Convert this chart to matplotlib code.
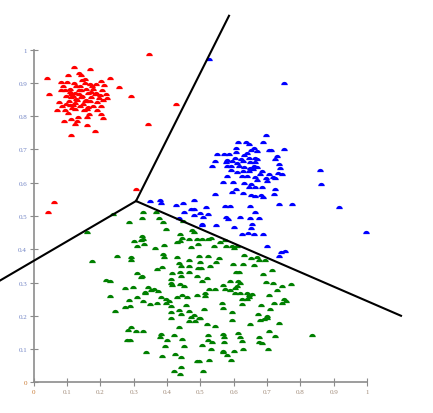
import numpy as np
import matplotlib
matplotlib.use("Agg")
import matplotlib.pyplot as plt
from matplotlib.path import Path

# cluster points (x, y)
red_pts = [
    (0.345, 0.986), (0.121, 0.948), (0.170, 0.942), (0.137, 0.930), (0.142, 0.925),
    (0.104, 0.923), (0.039, 0.915), (0.228, 0.915), (0.083, 0.903), (0.101, 0.903),
    (0.144, 0.908), (0.203, 0.905), (0.122, 0.900), (0.153, 0.900), (0.168, 0.896),
    (0.188, 0.898), (0.210, 0.893), (0.089, 0.890), (0.126, 0.890), (0.176, 0.890),
    (0.257, 0.887), (0.083, 0.878), (0.110, 0.883), (0.141, 0.880), (0.158, 0.881),
    (0.204, 0.880), (0.047, 0.868), (0.108, 0.873), (0.123, 0.871), (0.135, 0.868),
    (0.163, 0.870), (0.188, 0.871), (0.218, 0.868), (0.292, 0.860), (0.098, 0.860),
    (0.113, 0.858), (0.143, 0.858), (0.173, 0.858), (0.198, 0.863), (0.220, 0.855),
    (0.075, 0.843), (0.105, 0.846), (0.131, 0.848), (0.153, 0.845), (0.191, 0.843),
    (0.209, 0.848), (0.428, 0.838), (0.086, 0.830), (0.117, 0.833), (0.138, 0.830),
    (0.163, 0.828), (0.178, 0.830), (0.203, 0.830), (0.070, 0.820), (0.093, 0.818),
    (0.123, 0.822), (0.161, 0.821), (0.191, 0.820), (0.103, 0.811), (0.165, 0.808),
    (0.203, 0.806), (0.209, 0.796), (0.111, 0.792), (0.133, 0.798), (0.159, 0.798),
    (0.090, 0.786), (0.130, 0.786), (0.123, 0.776), (0.161, 0.774), (0.343, 0.778),
    (0.183, 0.755), (0.111, 0.744), (0.098, 0.838), (0.148, 0.838), (0.113, 0.868),
    (0.173, 0.873), (0.135, 0.878), (0.153, 0.913), (0.178, 0.883), (0.196, 0.856),
    (0.306, 0.581), (0.042, 0.511), (0.060, 0.542), (0.118, 0.862), (0.128, 0.852),
    (0.145, 0.862), (0.158, 0.850), (0.108, 0.835), (0.125, 0.840), (0.170, 0.845),
    (0.140, 0.890), (0.095, 0.880), (0.183, 0.868), (0.115, 0.825), (0.150, 0.818),
]

blue_pts = [
    (0.751, 0.901), (0.526, 0.971), (0.697, 0.743), (0.612, 0.722), (0.637, 0.723),
    (0.645, 0.717), (0.688, 0.722), (0.606, 0.704), (0.662, 0.704), (0.653, 0.699),
    (0.671, 0.696), (0.705, 0.697), (0.713, 0.699), (0.751, 0.702), (0.607, 0.692),
    (0.551, 0.685), (0.571, 0.685), (0.587, 0.685), (0.630, 0.682), (0.641, 0.689),
    (0.604, 0.674), (0.621, 0.671), (0.645, 0.674), (0.664, 0.674), (0.671, 0.671),
    (0.729, 0.680), (0.725, 0.670), (0.545, 0.666), (0.581, 0.668), (0.594, 0.666),
    (0.577, 0.662), (0.629, 0.666), (0.649, 0.662), (0.664, 0.662), (0.610, 0.658),
    (0.737, 0.657), (0.535, 0.649), (0.581, 0.650), (0.592, 0.650), (0.616, 0.649),
    (0.630, 0.646), (0.662, 0.650), (0.671, 0.648), (0.649, 0.643), (0.740, 0.643),
    (0.591, 0.639), (0.610, 0.631), (0.629, 0.634), (0.646, 0.634), (0.658, 0.641),
    (0.684, 0.634), (0.707, 0.627), (0.733, 0.628), (0.745, 0.627), (0.860, 0.638),
    (0.581, 0.621), (0.626, 0.621), (0.639, 0.620), (0.664, 0.617), (0.680, 0.627),
    (0.697, 0.613), (0.717, 0.617), (0.725, 0.614), (0.599, 0.602), (0.568, 0.602),
    (0.632, 0.598), (0.671, 0.608), (0.701, 0.605), (0.653, 0.597), (0.686, 0.588),
    (0.646, 0.587), (0.664, 0.587), (0.725, 0.582), (0.606, 0.580), (0.594, 0.573),
    (0.862, 0.595), (0.543, 0.566), (0.629, 0.569), (0.652, 0.562), (0.664, 0.560),
    (0.682, 0.562), (0.688, 0.558), (0.721, 0.565), (0.350, 0.546), (0.379, 0.549),
    (0.381, 0.538), (0.481, 0.549), (0.428, 0.534), (0.449, 0.538), (0.737, 0.535),
    (0.776, 0.536), (0.916, 0.526), (0.516, 0.528), (0.573, 0.531), (0.589, 0.529),
    (0.648, 0.529), (0.473, 0.520), (0.481, 0.521), (0.452, 0.513), (0.498, 0.508),
    (0.524, 0.506), (0.664, 0.511), (0.481, 0.503), (0.509, 0.496), (0.437, 0.494),
    (0.578, 0.498), (0.582, 0.491), (0.620, 0.498), (0.648, 0.493), (0.676, 0.494),
    (0.506, 0.476), (0.506, 0.472), (0.548, 0.472), (0.602, 0.467), (0.654, 0.476),
    (0.652, 0.464), (0.998, 0.451), (0.644, 0.449), (0.624, 0.445), (0.660, 0.445),
    (0.688, 0.445), (0.701, 0.409), (0.742, 0.391), (0.755, 0.396), (0.735, 0.379),
]

green_pts = [
    (0.238, 0.505), (0.160, 0.452), (0.329, 0.511), (0.367, 0.511), (0.324, 0.494),
    (0.376, 0.494), (0.287, 0.481), (0.388, 0.481), (0.448, 0.484), (0.396, 0.461),
    (0.476, 0.459), (0.481, 0.453), (0.438, 0.447), (0.324, 0.441), (0.444, 0.435),
    (0.300, 0.426), (0.321, 0.428), (0.327, 0.430), (0.431, 0.423), (0.438, 0.425),
    (0.467, 0.430), (0.490, 0.431), (0.332, 0.417), (0.310, 0.410), (0.392, 0.413),
    (0.365, 0.405), (0.472, 0.407), (0.493, 0.417), (0.250, 0.380), (0.293, 0.378),
    (0.293, 0.368), (0.388, 0.386), (0.391, 0.376), (0.431, 0.378), (0.467, 0.369),
    (0.496, 0.379), (0.175, 0.366), (0.436, 0.360), (0.441, 0.350), (0.467, 0.351),
    (0.493, 0.345), (0.384, 0.346), (0.369, 0.340), (0.466, 0.333), (0.438, 0.331),
    (0.415, 0.328), (0.441, 0.321), (0.489, 0.321), (0.310, 0.329), (0.326, 0.321),
    (0.323, 0.316), (0.411, 0.311), (0.217, 0.308), (0.228, 0.304), (0.411, 0.299),
    (0.440, 0.297), (0.414, 0.294), (0.451, 0.290), (0.275, 0.283), (0.298, 0.286),
    (0.342, 0.286), (0.360, 0.281), (0.351, 0.278), (0.373, 0.275), (0.335, 0.272),
    (0.333, 0.268), (0.228, 0.260), (0.310, 0.256), (0.383, 0.256), (0.396, 0.250),
    (0.431, 0.256), (0.444, 0.263), (0.461, 0.255), (0.489, 0.263), (0.286, 0.247),
    (0.329, 0.245), (0.369, 0.239), (0.406, 0.245), (0.397, 0.238), (0.350, 0.235),
    (0.290, 0.229), (0.275, 0.226), (0.411, 0.228), (0.457, 0.233), (0.245, 0.213),
    (0.436, 0.217), (0.443, 0.205), (0.466, 0.213), (0.472, 0.197), (0.482, 0.203),
    (0.413, 0.211), (0.413, 0.192), (0.467, 0.183), (0.485, 0.183), (0.496, 0.193),
    (0.291, 0.165), (0.284, 0.157), (0.308, 0.153), (0.327, 0.153), (0.436, 0.165),
    (0.382, 0.146), (0.378, 0.137), (0.422, 0.142), (0.281, 0.128), (0.289, 0.126),
    (0.400, 0.126), (0.444, 0.129), (0.395, 0.110), (0.451, 0.110), (0.337, 0.090),
    (0.425, 0.086), (0.384, 0.078), (0.442, 0.076), (0.491, 0.065), (0.442, 0.047),
    (0.421, 0.035), (0.440, 0.025),
    (0.504, 0.431), (0.522, 0.431), (0.532, 0.433), (0.540, 0.411), (0.558, 0.421),
    (0.573, 0.429), (0.578, 0.409), (0.596, 0.411), (0.602, 0.403), (0.609, 0.409),
    (0.524, 0.379), (0.500, 0.361), (0.546, 0.361), (0.557, 0.374), (0.632, 0.382),
    (0.651, 0.373), (0.669, 0.378), (0.677, 0.369), (0.694, 0.369), (0.529, 0.351),
    (0.599, 0.355), (0.629, 0.355), (0.662, 0.352), (0.502, 0.343), (0.606, 0.333),
    (0.617, 0.333), (0.689, 0.327), (0.716, 0.339), (0.519, 0.313), (0.506, 0.305),
    (0.588, 0.305), (0.614, 0.305), (0.620, 0.298), (0.697, 0.302), (0.717, 0.298),
    (0.567, 0.293), (0.609, 0.289), (0.745, 0.289), (0.773, 0.295), (0.526, 0.281),
    (0.543, 0.282), (0.573, 0.280), (0.588, 0.279), (0.605, 0.284), (0.731, 0.277),
    (0.514, 0.269), (0.605, 0.269), (0.618, 0.268), (0.641, 0.269), (0.646, 0.263),
    (0.654, 0.266), (0.514, 0.259), (0.707, 0.263), (0.624, 0.250), (0.639, 0.251),
    (0.645, 0.257), (0.752, 0.250), (0.758, 0.244), (0.744, 0.238), (0.566, 0.239),
    (0.625, 0.235), (0.720, 0.238), (0.683, 0.232), (0.510, 0.220), (0.569, 0.224),
    (0.710, 0.220), (0.594, 0.212), (0.673, 0.206), (0.499, 0.192), (0.680, 0.186),
    (0.699, 0.199), (0.701, 0.193), (0.690, 0.190), (0.594, 0.187), (0.519, 0.174),
    (0.543, 0.170), (0.650, 0.174), (0.735, 0.177), (0.612, 0.149), (0.706, 0.154),
    (0.568, 0.146), (0.725, 0.139), (0.836, 0.141), (0.524, 0.143), (0.522, 0.127),
    (0.536, 0.120), (0.571, 0.135), (0.571, 0.121), (0.618, 0.135), (0.624, 0.124),
    (0.676, 0.135), (0.676, 0.121), (0.684, 0.118), (0.504, 0.113), (0.532, 0.100),
    (0.568, 0.095), (0.568, 0.090), (0.602, 0.095), (0.627, 0.100), (0.703, 0.100),
    (0.581, 0.081), (0.591, 0.066), (0.495, 0.065), (0.526, 0.066), (0.509, 0.034),
]

# boundary segments: shared centre and the three far ends
centre = (0.307, 0.545)
line_ends = [(0.586, 1.102), (-0.101, 0.306), (1.102, 0.200)]

ticks = np.round(np.arange(0, 1.01, 0.1), 1)
tick_labels = ["0", "0.1", "0.2", "0.3", "0.4", "0.5", "0.6", "0.7", "0.8", "0.9", "1"]

# half-disc marker, flat side down
t = np.linspace(0, np.pi, 20)
verts = np.column_stack([np.cos(t), np.sin(t) - 0.5])
verts = np.vstack([verts, verts[:1]])
codes = [Path.MOVETO] + [Path.LINETO] * (len(verts) - 2) + [Path.CLOSEPOLY]
dome = Path(verts, codes)

fig = plt.figure(figsize=(4.33, 4.14), dpi=100)
ax = fig.add_axes([0, 0, 1, 1])

for pts, col in [(red_pts, "#ff0000"), (blue_pts, "#0000ff"), (green_pts, "#008000")]:
    p = np.array(pts)
    ax.scatter(p[:, 0], p[:, 1], marker=dome, s=22, color=col, linewidths=0, zorder=3)

for end in line_ends:
    ax.plot([centre[0], end[0]], [centre[1], end[1]], color="black", lw=1.5, zorder=4)

ax.set_xlim(-0.1011, 1.198)
ax.set_ylim(-0.0923, 1.1524)

for s in ["top", "right"]:
    ax.spines[s].set_visible(False)
for s in ["left", "bottom"]:
    ax.spines[s].set_position(("data", 0))
    ax.spines[s].set_bounds(0, 1)
    ax.spines[s].set_color("#8c8c8c")
    ax.spines[s].set_linewidth(1.2)

ax.set_xticks(ticks)
ax.set_yticks(ticks)
ax.set_xticklabels(tick_labels)
ax.set_yticklabels(tick_labels)
ax.tick_params(direction="inout", length=5.5, width=0.8, color="#8c8c8c",
               labelsize=5, pad=2)
for lab in ax.get_xticklabels() + ax.get_yticklabels():
    lab.set_fontfamily("Liberation Serif")
for lab in ax.get_xticklabels():
    lab.set_color("#a08a78")
for lab in ax.get_yticklabels():
    lab.set_color("#6f82c4")
ax.get_yticklabels()[0].set_color("#c87830")
ax.get_xticklabels()[0].set_color("#c87830")

fig.savefig("out.png", dpi=100)
